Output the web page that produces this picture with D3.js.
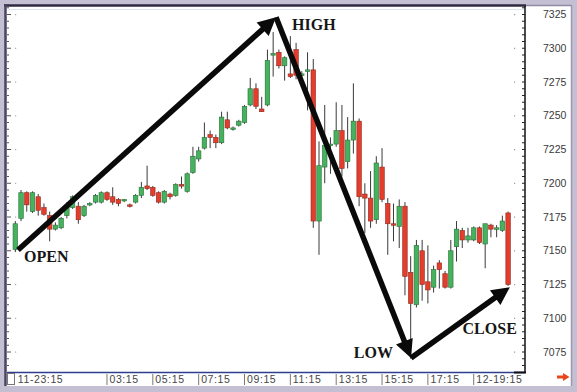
<!DOCTYPE html>
<html>
<head>
<meta charset="utf-8">
<script src="https://cdnjs.cloudflare.com/ajax/libs/d3/7.8.5/d3.min.js"></script>
<style>
  body { margin: 0; background: #fff; }
</style>
</head>
<body>
<div id="chart"></div>
<script>
// 15-minute candles, index 0 = 11-23:15
var openVals = [7151,7174,7193,7179,7190,7182,7176,7166,7167,7176,
  7182,7183,7176,7184,7186,7186,7193,7190,7188,7187,
  7184,7186,7191,7198,7197,7193,7186,7192,7191,7199,
  7194,7208,7218,7226,7236,7234,7230,7247,7240,7243,
  7245,7258,7270,7255,7258,7295,7297,7287,7281,7299,
  7280,7283,7284,7172,7212,7228,7229,7239,7216,7232,
  7246,7192,7189,7173,7212,7185,7170,7168,7183,7134,
  7110,7150,7127,7123,7141,7133,7123,7153,7165,7158,
  7158,7167,7155,7169,7166,7165,7178];
var highVals = [7172,7195,7194,7194,7192,7185,7179,7171,7175,7186,
  7191,7186,7184,7186,7192,7194,7194,7197,7189,7188,
  7185,7192,7201,7213,7198,7194,7195,7193,7200,7205,
  7208,7227,7227,7245,7239,7236,7253,7253,7242,7247,
  7258,7278,7274,7264,7299,7312,7299,7294,7309,7304,
  7283,7297,7292,7231,7258,7234,7260,7258,7249,7274,
  7248,7200,7209,7220,7226,7189,7185,7188,7186,7146,
  7158,7158,7154,7139,7143,7135,7158,7172,7167,7167,
  7168,7168,7170,7170,7169,7176,7179];
var lowVals = [7149,7172,7179,7178,7176,7176,7157,7165,7166,7174,
  7181,7170,7175,7183,7185,7185,7187,7184,7183,7186,
  7182,7185,7189,7195,7190,7185,7185,7188,7190,7196,
  7193,7207,7216,7225,7226,7226,7229,7240,7239,7242,
  7244,7257,7255,7253,7257,7279,7285,7276,7278,7277,
  7277,7254,7167,7147,7200,7207,7227,7205,7211,7222,
  7183,7163,7167,7170,7186,7147,7157,7152,7117,7070,
  7108,7113,7111,7119,7122,7122,7122,7142,7152,7156,
  7157,7155,7137,7160,7160,7164,7124];
var closeVals = [7170,7193,7184,7193,7180,7177,7166,7169,7174,7183,
  7190,7173,7183,7185,7191,7193,7188,7186,7185,7188,
  7183,7191,7197,7196,7191,7186,7194,7190,7199,7198,
  7207,7220,7224,7234,7234,7230,7249,7241,7241,7246,
  7257,7270,7257,7253,7291,7296,7287,7293,7279,7280,
  7281,7284,7172,7213,7228,7229,7239,7211,7232,7246,
  7190,7189,7172,7215,7188,7170,7169,7183,7131,7111,
  7154,7125,7121,7136,7136,7123,7150,7166,7158,7161,
  7167,7156,7170,7166,7167,7172,7125];

// x axis ticks (candle index) and labels
var timeTickIdx = [0, 16, 24, 32, 40, 48, 56, 64, 72, 80];
var timeTickLabels = ["11-23:15", "03:15", "05:15", "07:15", "09:15",
  "11:15", "13:15", "15:15", "17:15", "12-19:15"];

// price ticks
var priceTicks = [7075, 7100, 7125, 7150, 7175, 7200, 7225, 7250, 7275, 7300, 7325];

// annotation points: [candle index, price]
var annoNames = ["OPEN", "HIGH", "LOW", "CLOSE"];
var annoIdx = [0.47, 45.5, 69.05, 86.3];
var annoPrice = [7150.6, 7323, 7070.6, 7123];

var svgWidth = 577;
var svgHeight = 392;

var svg = d3.select("#chart")
  .append("svg")
  .attr("width", svgWidth)
  .attr("height", svgHeight);

// frame
svg.append("rect").attr("width", svgWidth).attr("height", svgHeight).attr("fill", "#c4bfd3");
svg.append("rect").attr("x", 6).attr("y", 6).attr("width", 565).attr("height", 380).attr("fill", "#fff");
svg.append("line").attr("x1", 4).attr("x2", 526).attr("y1", 5.5).attr("y2", 5.5)
  .attr("stroke", "#2f2a40").attr("stroke-width", 2.5);
svg.append("line").attr("x1", 526).attr("x2", 572).attr("y1", 5.5).attr("y2", 5.5)
  .attr("stroke", "#8f89a3").attr("stroke-width", 1.5);
svg.append("line").attr("x1", 5.5).attr("x2", 5.5).attr("y1", 4).attr("y2", 386)
  .attr("stroke", "#4a4460").attr("stroke-width", 2.5);
svg.append("line").attr("x1", 571.5).attr("x2", 571.5).attr("y1", 5).attr("y2", 386)
  .attr("stroke", "#9c96b0").attr("stroke-width", 1.5);
svg.append("line").attr("x1", 8).attr("x2", 524).attr("y1", 9.5).attr("y2", 9.5)
  .attr("stroke", "#dbe6f2").attr("stroke-width", 1);

// scales
var xScale = d3.scaleLinear().domain([0, 86]).range([15.3, 508.1]);
var yScale = d3.scaleLinear().domain([7075, 7325]).range([352, 14.5]);

// right price axis
var minorTicks = d3.range(7040, 7345, 5).filter(v => yScale(v) > 7 && yScale(v) < 371);
var rightAxis = svg.append("g");
rightAxis.append("line").attr("x1", 525).attr("x2", 525).attr("y1", 6).attr("y2", 372)
  .attr("stroke", "#111").attr("stroke-width", 1.5);
rightAxis.selectAll(".mt").data(minorTicks).enter().append("line")
  .attr("x1", 522).attr("x2", 525)
  .attr("y1", d => yScale(d)).attr("y2", d => yScale(d))
  .attr("stroke", "#222").attr("stroke-width", 1);
rightAxis.selectAll(".dot").data(priceTicks).enter().append("rect")
  .attr("x", 514).attr("y", d => yScale(d) - 0.5).attr("width", 1.2).attr("height", 1.2)
  .attr("fill", "#999");
rightAxis.selectAll(".lbl").data(priceTicks).enter().append("text")
  .attr("x", 543).attr("y", d => yScale(d))
  .attr("dy", "0.35em")
  .attr("font-family", "Liberation Sans, Arial, sans-serif")
  .attr("font-size", "10.5px")
  .attr("fill", "#3a3a3a")
  .text(d => d);

// left axis ticks
var leftAxis = svg.append("g");
leftAxis.selectAll(".mt").data(minorTicks).enter().append("line")
  .attr("x1", 7).attr("x2", d => (d % 25 === 0) ? 11 : 9)
  .attr("y1", d => yScale(d)).attr("y2", d => yScale(d))
  .attr("stroke", "#555").attr("stroke-width", 1);
leftAxis.selectAll(".dot").data(priceTicks).enter().append("rect")
  .attr("x", 15).attr("y", d => yScale(d) - 0.5).attr("width", 1.2).attr("height", 1.2)
  .attr("fill", "#aaa");

// candles
var candles = openVals.map(function(o, i) {
  return { i: i, o: o, h: highVals[i], l: lowVals[i], c: closeVals[i] };
});

var candleGroup = svg.append("g");
candleGroup.selectAll(".wick").data(candles).enter().append("line")
  .attr("x1", d => xScale(d.i)).attr("x2", d => xScale(d.i))
  .attr("y1", d => yScale(d.h)).attr("y2", d => yScale(d.l))
  .attr("stroke", "#3a3a3a").attr("stroke-width", 1);

candleGroup.selectAll(".body").data(candles).enter().append("rect")
  .attr("x", d => xScale(d.i) - 2.25)
  .attr("y", d => yScale(Math.max(d.o, d.c)))
  .attr("width", 4.5)
  .attr("height", d => Math.max(1.5, Math.abs(yScale(d.o) - yScale(d.c))))
  .attr("fill", d => d.c >= d.o ? "#45b25e" : "#e43d2c")
  .attr("stroke", d => d.c >= d.o ? "#2a6e38" : "#8f2a20")
  .attr("stroke-width", 0.6);

// x axis strip
var xAxisG = svg.append("g");
xAxisG.append("line").attr("x1", 7).attr("x2", 525).attr("y1", 372.5).attr("y2", 372.5)
  .attr("stroke", "#2e3f8f").attr("stroke-width", 1.6);
xAxisG.append("line").attr("x1", 514).attr("x2", 526).attr("y1", 372.5).attr("y2", 372.5)
  .attr("stroke", "#111").attr("stroke-width", 2);
xAxisG.append("rect").attr("x", 7.5).attr("y", 373.5).attr("width", 7).attr("height", 11)
  .attr("fill", "#fff").attr("stroke", "#777").attr("stroke-width", 1);
xAxisG.selectAll(".tb").data(timeTickIdx.slice(1)).enter().append("line")
  .attr("x1", d => xScale(d)).attr("x2", d => xScale(d))
  .attr("y1", 374).attr("y2", 385)
  .attr("stroke", "#777").attr("stroke-width", 1);
xAxisG.selectAll(".tl").data(timeTickIdx).enter().append("text")
  .attr("x", d => xScale(d) + 2.5)
  .attr("y", 383)
  .attr("font-family", "Liberation Sans, Arial, sans-serif")
  .attr("font-size", "10.5px")
  .attr("letter-spacing", "0.6px")
  .attr("fill", "#454545")
  .text((d, k) => timeTickLabels[k]);

// red scroll arrow
svg.append("path")
  .attr("d", "M557,375.5 L563,375.5 L563,373 L569.5,377 L563,381 L563,378.5 L557,378.5 Z")
  .attr("fill", "#e8461c");

// annotation arrows
var pts = annoIdx.map((v, k) => [xScale(v), yScale(annoPrice[k])]);
var arrowG = svg.append("g");

function drawArrow(a, b, head) {
  var dx = b[0] - a[0], dy = b[1] - a[1];
  var len = Math.sqrt(dx * dx + dy * dy);
  var ux = dx / len, uy = dy / len;
  var hl = head ? 18 : 0;
  arrowG.append("line")
    .attr("x1", a[0]).attr("y1", a[1])
    .attr("x2", b[0] - ux * hl * 0.8).attr("y2", b[1] - uy * hl * 0.8)
    .attr("stroke", "#0a0a0a").attr("stroke-width", 5.5);
  if (head) {
    var bx = b[0] - ux * hl, by = b[1] - uy * hl;
    var hw = 9;
    arrowG.append("path")
      .attr("d", "M" + b[0] + "," + b[1] +
        " L" + (bx - uy * hw) + "," + (by + ux * hw) +
        " L" + (bx + uy * hw) + "," + (by - ux * hw) + " Z")
      .attr("fill", "#0a0a0a");
  }
}
drawArrow(pts[0], pts[1], true);
drawArrow(pts[1], pts[2], true);
drawArrow(pts[2], pts[3], true);

// annotation labels
var labelOffsets = [[6, 12, "start"], [16, 13, "start"], [-18, 0, "end"], [7, 47, "end"]];
arrowG.selectAll(".anno").data(annoNames).enter().append("text")
  .attr("x", (d, k) => pts[k][0] + labelOffsets[k][0])
  .attr("y", (d, k) => pts[k][1] + labelOffsets[k][1])
  .attr("text-anchor", (d, k) => labelOffsets[k][2])
  .attr("font-family", "Liberation Serif, Times New Roman, serif")
  .attr("font-weight", "bold")
  .attr("font-size", "16px")
  .attr("fill", "#161616")
  .text(d => d);
</script>
</body>
</html>
